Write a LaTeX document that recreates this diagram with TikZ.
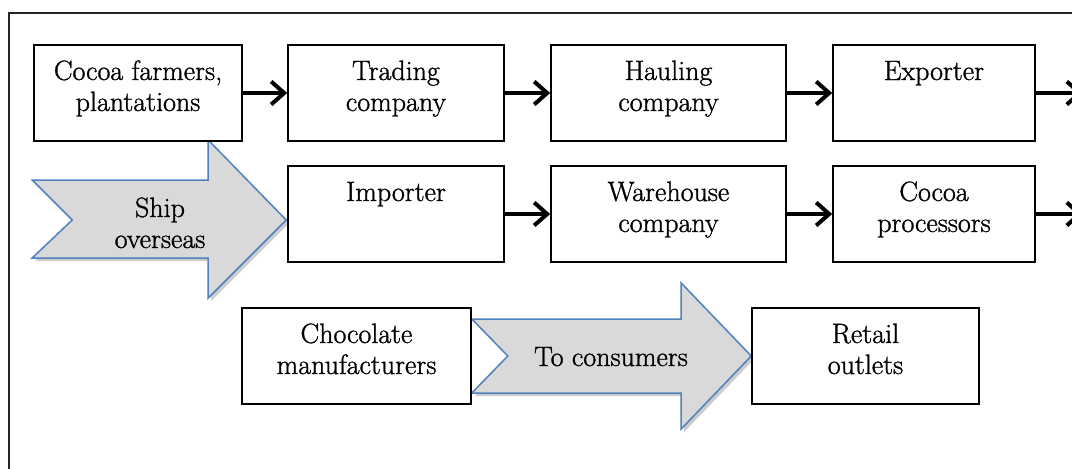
\documentclass[tikz,border=0pt]{standalone}
\usepackage{fontspec}
\setmainfont{Latin Modern Roman}[FakeBold=1.1]
\usetikzlibrary{arrows.meta,shadows,calc,backgrounds}
\begin{document}
\begin{tikzpicture}[x=1pt,y=-1pt,
  stage/.style={draw=black,line width=1.6pt,fill=white,inner sep=0pt,text height=35pt,text depth=61pt,anchor=base,font=\fontsize{28}{31}\selectfont},
  lbl/.style={inner sep=0pt,anchor=base,font=\fontsize{28}{31}\selectfont},
  flowarrow/.style={line width=4pt,-{Straight Barb[length=13pt,width=23pt]}},
  bigarrow/.style={draw={rgb,255:red,79;green,129;blue,189},line width=1.5pt,fill=black!15,line join=miter,
    drop shadow={shadow xshift=3pt,shadow yshift=-3pt,opacity=0.2,fill=black}},
  outerframe/.style={draw=black!85,line width=2pt}]
\useasboundingbox (0,0) rectangle (1072,469);
\clip (0,0) rectangle (1072,469);
\begin{pgfonlayer}{background}
  \fill[white] (0,0) rectangle (1072,469);
  \draw[outerframe] (9,13) rectangle (1100,500);
\end{pgfonlayer}

% row 1
\node[stage,minimum width=208pt] (cf) at (138,80) {\begin{tabular}[t]{@{}c@{}}Cocoa farmers,\\plantations\end{tabular}};
\node[stage,minimum width=216pt] (tc) at (396,80) {\begin{tabular}[t]{@{}c@{}}Trading\\company\end{tabular}};
\node[stage,minimum width=235pt] (hc) at (668.5,80) {\begin{tabular}[t]{@{}c@{}}Hauling\\company\end{tabular}};
\node[stage,minimum width=202pt] (ex) at (934,80) {Exporter};
% row 2
\node[stage,minimum width=216pt] (im) at (396,201) {Importer};
\node[stage,minimum width=235pt] (wh) at (668.5,201) {\begin{tabular}[t]{@{}c@{}}Warehouse\\company\end{tabular}};
\node[stage,minimum width=202pt] (cp) at (934,201) {\begin{tabular}[t]{@{}c@{}}Cocoa\\processors\end{tabular}};
% row 3
\node[stage,minimum width=229pt] (cm) at (356.5,343) {\begin{tabular}[t]{@{}c@{}}Chocolate\\manufacturers\end{tabular}};
\node[stage,minimum width=227pt] (ro) at (865.5,343) {\begin{tabular}[t]{@{}c@{}}Retail\\outlets\end{tabular}};

\coordinate (off1) at ($(ex.east)+(47,0)$);
\coordinate (off2) at ($(cp.east)+(47,0)$);
\coordinate (shiptip) at ($(im.west)+(-1,6)$);

\draw[flowarrow] (cf.east) -- (tc.west);
\draw[flowarrow] (tc.east) -- (hc.west);
\draw[flowarrow] (hc.east) -- (ex.west);
\draw[flowarrow] (ex.east) -- (off1);
\draw[flowarrow] (im.east) -- (wh.west);
\draw[flowarrow] (wh.east) -- (cp.west);
\draw[flowarrow] (cp.east) -- (off2);

\begin{pgfonlayer}{background}
\draw[bigarrow] (shiptip) -- ++(-78,-80) -- ++(0,40) -- ++(-176,0) -- ++(40,40) -- ++(-40,38) -- ++(176,0) -- ++(0,40) -- cycle;
\draw[bigarrow] ($(cm.east)+(0,-37)$) -- ($(ro.west)+(-70,-37)$) -- ($(ro.west)+(-70,-73)$) -- (ro.west)
  -- ($(ro.west)+(-70,73)$) -- ($(ro.west)+(-70,37)$) -- ($(cm.east)+(0,37)$) -- ($(cm.east)+(36,0)$) -- cycle;
\end{pgfonlayer}

\node[lbl] (ship) at (160,217) {\begin{tabular}[t]{@{}c@{}}Ship\\overseas\end{tabular}};
\node[lbl] (tocons) at (611,366) {To consumers};
\end{tikzpicture}
\end{document}
